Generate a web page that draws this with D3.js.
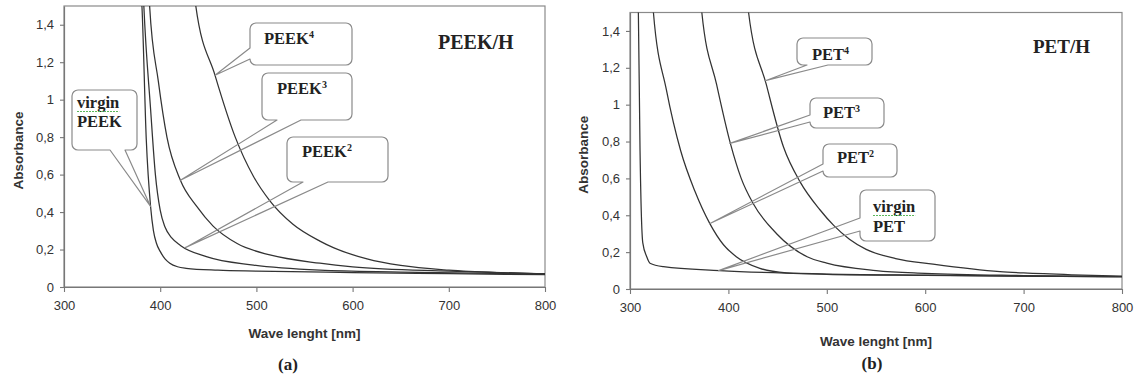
<!DOCTYPE html>
<html>
<head>
<meta charset="utf-8">
<script src="https://cdn.jsdelivr.net/npm/d3@7"></script>
<style>
  html, body { margin: 0; padding: 0; background: #fff; }
  svg { display: block; }
</style>
</head>
<body>
<svg id="chart" width="1141" height="385"></svg>
<script>
// ---- data -------------------------------------------------------------
const xTickValues = [300, 400, 500, 600, 700, 800];
const xTickLabels = ["300", "400", "500", "600", "700", "800"];
const yTickValues = [0, 0.2, 0.4, 0.6, 0.8, 1.0, 1.2, 1.4];
const yTickLabels = ["0", "0,2", "0,4", "0,6", "0,8", "1", "1,2", "1,4"];

// PEEK/H absorbance spectra (wavelength nm / absorbance)
const peekVirginNm  = [379.5, 381, 385.5, 390, 393, 396, 400, 405, 410, 418, 427, 460, 500, 600, 700, 800];
const peekVirginAbs = [1.62, 1.5, 0.79, 0.43, 0.3, 0.235, 0.19, 0.15, 0.127, 0.108, 0.1, 0.09, 0.085, 0.077, 0.071, 0.066];
const peek2Nm  = [382, 383, 390, 395, 400, 405, 412, 421, 448, 497, 566, 650, 800];
const peek2Abs = [1.62, 1.5, 0.95, 0.6, 0.41, 0.32, 0.262, 0.222, 0.162, 0.117, 0.09, 0.08, 0.068];
const peek3Nm  = [388, 389, 398, 407, 421, 438, 455, 480, 514, 566, 600, 700, 800];
const peek3Abs = [1.62, 1.5, 1.1, 0.8, 0.57, 0.43, 0.325, 0.232, 0.171, 0.127, 0.108, 0.085, 0.071];
const peek4Nm  = [435, 437, 457, 478, 497, 514, 538, 566, 580, 615, 650, 700, 750, 800];
const peek4Abs = [1.62, 1.5, 1.13, 0.8, 0.59, 0.46, 0.335, 0.245, 0.21, 0.15, 0.115, 0.09, 0.077, 0.07];

// PET/H absorbance spectra
const petVirginNm  = [308, 308.5, 310.2, 313, 317, 320.3, 334, 391, 493, 600, 700, 800];
const petVirginAbs = [1.62, 1.5, 0.75, 0.25, 0.175, 0.14, 0.121, 0.1, 0.082, 0.075, 0.07, 0.067];
const pet2Nm  = [322.5, 323.8, 337, 351.5, 366, 381, 395, 408, 432, 459, 500, 600, 700, 800];
const pet2Abs = [1.62, 1.5, 1.08, 0.75, 0.53, 0.356, 0.24, 0.175, 0.112, 0.088, 0.08, 0.074, 0.07, 0.067];
const pet3Nm  = [371.5, 373, 388, 402, 413, 425, 449, 480, 500, 550, 600, 700, 800];
const pet3Abs = [1.62, 1.5, 1.11, 0.79, 0.6, 0.465, 0.3, 0.175, 0.14, 0.1, 0.085, 0.073, 0.067];
const pet4Nm  = [419, 420.5, 438.5, 456, 473, 493, 507, 523, 540, 570, 608, 676, 700, 750, 800];
const pet4Abs = [1.62, 1.5, 1.11, 0.77, 0.58, 0.43, 0.345, 0.27, 0.215, 0.165, 0.135, 0.094, 0.087, 0.077, 0.07];

// ---- layout -----------------------------------------------------------
const panels = [
  {
    id: "a",
    plot: { left: 64, right: 545, top: 6, bottom: 287 },
    title: "PEEK/H", titlePos: [438, 49], titleSize: 20,
    yLabelX: 18, xLabelY: 338, tagPos: [288, 370], tag: "(a)",
    series: [
      { nm: peekVirginNm, abs: peekVirginAbs },
      { nm: peek2Nm, abs: peek2Abs },
      { nm: peek3Nm, abs: peek3Abs },
      { nm: peek4Nm, abs: peek4Abs }
    ],
    callouts: [
      { box: [250, 23, 352, 65], side: "left", base: [48, 59], tip: [457, 1.13],
        lines: [{ t: "PEEK", sup: "4", x: 264, y: 44 }] },
      { box: [262, 73, 352, 120], side: "bottom", base: [277, 301], tip: [421, 0.57],
        lines: [{ t: "PEEK", sup: "3", x: 277, y: 94 }] },
      { box: [287, 137, 388, 182], side: "bottom", base: [303, 328], tip: [426, 0.21],
        lines: [{ t: "PEEK", sup: "2", x: 302, y: 157 }] },
      { box: [72, 90, 137, 150], side: "bottom", base: [110, 125], tip: [390, 0.43],
        lines: [{ t: "virgin", x: 77, y: 108, spell: true }, { t: "PEEK", x: 77, y: 127 }] }
    ]
  },
  {
    id: "b",
    plot: { left: 630, right: 1122, top: 12.5, bottom: 289 },
    title: "PET/H", titlePos: [1033, 53], titleSize: 19,
    yLabelX: 583, xLabelY: 346, tagPos: [872, 369], tag: "(b)",
    series: [
      { nm: petVirginNm, abs: petVirginAbs },
      { nm: pet2Nm, abs: pet2Abs },
      { nm: pet3Nm, abs: pet3Abs },
      { nm: pet4Nm, abs: pet4Abs }
    ],
    callouts: [
      { box: [797, 38, 872, 65], side: "bottom", base: [807, 828], tip: [437.5, 1.13],
        lines: [{ t: "PET", sup: "4", x: 812, y: 60 }] },
      { box: [810, 98, 884, 128], side: "left", base: [115, 122], tip: [401.5, 0.79],
        lines: [{ t: "PET", sup: "3", x: 823, y: 118 }] },
      { box: [823, 144, 897, 177], side: "left", base: [164, 171], tip: [381.3, 0.355],
        lines: [{ t: "PET", sup: "2", x: 837, y: 163 }] },
      { box: [860, 190, 935, 241], side: "left", base: [218, 231], tip: [390, 0.1],
        lines: [{ t: "virgin", x: 873, y: 212, spell: true }, { t: "PET", x: 873, y: 232 }] }
    ]
  }
];

const svg = d3.select("#chart");
const serif = "'Liberation Serif', 'Times New Roman', serif";
const sans = "'Liberation Sans', Arial, sans-serif";

// rounded box outline with a wedge pointing at the tip
function calloutPath(box, side, base, tip, r) {
  const [x0, y0, x1, y1] = box;
  const p = d3.path();
  p.moveTo(x0 + r, y0);
  p.lineTo(x1 - r, y0);
  p.arcTo(x1, y0, x1, y0 + r, r);
  p.lineTo(x1, y1 - r);
  p.arcTo(x1, y1, x1 - r, y1, r);
  if (side === "bottom") {
    p.lineTo(base[1], y1);
    p.lineTo(tip[0], tip[1]);
    p.lineTo(base[0], y1);
  }
  p.lineTo(x0 + r, y1);
  p.arcTo(x0, y1, x0, y1 - r, r);
  if (side === "left") {
    p.lineTo(x0, base[1]);
    p.lineTo(tip[0], tip[1]);
    p.lineTo(x0, base[0]);
  }
  p.lineTo(x0, y0 + r);
  p.arcTo(x0, y0, x0 + r, y0, r);
  p.closePath();
  return p.toString();
}

panels.forEach(panel => {
  const { left, right, top, bottom } = panel.plot;
  const x = d3.scaleLinear().domain([300, 800]).range([left, right]);
  const y = d3.scaleLinear().domain([0, 1.5]).range([bottom, top]);
  const g = svg.append("g");

  // plot frame
  g.append("rect")
    .attr("x", left).attr("y", top)
    .attr("width", right - left).attr("height", bottom - top)
    .attr("fill", "#fff").attr("stroke", "#8a8a8a").attr("stroke-width", 1.2);

  // spectra
  const clipId = "clip-" + panel.id;
  svg.append("clipPath").attr("id", clipId)
    .append("rect").attr("x", left).attr("y", top)
    .attr("width", right - left).attr("height", bottom - top);

  const line = d3.line()
    .x(d => x(d[0])).y(d => y(d[1]))
    .curve(d3.curveMonotoneX);

  g.append("g").attr("clip-path", `url(#${clipId})`)
    .selectAll("path").data(panel.series).join("path")
    .attr("d", s => line(s.nm.map((v, i) => [v, s.abs[i]])))
    .attr("fill", "none").attr("stroke", "#333").attr("stroke-width", 1.25);

  // axes
  const yAxis = d3.axisLeft(y).tickValues(yTickValues)
    .tickFormat((d, i) => yTickLabels[i]).tickSizeInner(4).tickSizeOuter(0).tickPadding(6);
  const xAxis = d3.axisBottom(x).tickValues(xTickValues)
    .tickFormat((d, i) => xTickLabels[i]).tickSizeInner(5).tickSizeOuter(0).tickPadding(9);

  const ya = g.append("g").attr("transform", `translate(${left},0)`).call(yAxis);
  const xa = g.append("g").attr("transform", `translate(0,${bottom})`).call(xAxis);
  [ya, xa].forEach(a => {
    a.select(".domain").attr("stroke", "#777").attr("stroke-width", 1.2);
    a.selectAll(".tick line").attr("stroke", "#777").attr("stroke-width", 1.1);
    a.selectAll(".tick text").attr("fill", "#333")
      .style("font-family", sans).style("font-size", "13px");
  });

  // axis titles
  g.append("text")
    .attr("transform", `translate(${panel.yLabelX},${(top + bottom) / 2 + 4}) rotate(-90)`)
    .attr("text-anchor", "middle").attr("dy", "0.35em")
    .style("font-family", sans).style("font-size", "13.5px").style("font-weight", "bold")
    .attr("fill", "#333").text("Absorbance");
  g.append("text")
    .attr("x", (left + right) / 2).attr("y", panel.xLabelY)
    .attr("text-anchor", "middle")
    .style("font-family", sans).style("font-size", "13.5px").style("font-weight", "bold")
    .attr("fill", "#333").text("Wave lenght [nm]");

  // panel title and tag
  g.append("text")
    .attr("x", panel.titlePos[0]).attr("y", panel.titlePos[1])
    .style("font-family", serif).style("font-size", panel.titleSize + "px").style("font-weight", "bold")
    .attr("fill", "#222").text(panel.title);
  g.append("text")
    .attr("x", panel.tagPos[0]).attr("y", panel.tagPos[1])
    .attr("text-anchor", "middle")
    .style("font-family", serif).style("font-size", "17px").style("font-weight", "bold")
    .attr("fill", "#222").text(panel.tag);

  // callouts
  panel.callouts.forEach(c => {
    const tip = [x(c.tip[0]), y(c.tip[1])];
    const [x0, y0, x1, y1] = c.box;
    const cg = g.append("g");
    cg.append("rect")
      .attr("x", x0).attr("y", y0).attr("width", x1 - x0).attr("height", y1 - y0)
      .attr("rx", 6).attr("fill", "#fff");
    cg.append("path")
      .attr("d", calloutPath(c.box, c.side, c.base, tip, 6))
      .attr("fill", "none").attr("stroke", "#8a8a8a").attr("stroke-width", 1.2)
      .attr("stroke-linejoin", "round");
    c.lines.forEach(l => {
      const t = cg.append("text")
        .attr("x", l.x).attr("y", l.y)
        .style("font-family", serif).style("font-size", "16.5px").style("font-weight", "bold")
        .attr("fill", "#222").text(l.t);
      if (l.sup) {
        t.append("tspan").attr("dy", -6).style("font-size", "10px").text(l.sup);
      }
      if (l.spell) {
        const w = t.node().getComputedTextLength();
        cg.append("line")
          .attr("x1", l.x).attr("x2", l.x + w)
          .attr("y1", l.y + 3.5).attr("y2", l.y + 3.5)
          .attr("stroke", "#5cb85c").attr("stroke-width", 1)
          .attr("stroke-dasharray", "2,1");
      }
    });
  });
});
</script>
</body>
</html>
